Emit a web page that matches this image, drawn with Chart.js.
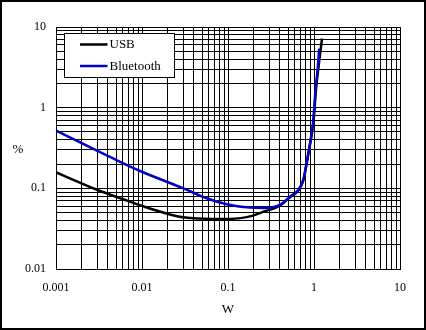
<!DOCTYPE html>
<html>
<head>
<meta charset="utf-8">
<title>USB / Bluetooth</title>
<script src="https://cdn.jsdelivr.net/npm/chart.js@4.5.0/dist/chart.umd.min.js"></script>
<style>
  html, body { margin: 0; padding: 0; background: #fff; }
  canvas { display: block; }
</style>
</head>
<body>
<canvas id="lossChart" width="426" height="330"></canvas>
<script>
// axis decades and their printed labels
const xTicks = [0.001, 0.01, 0.1, 1, 10]
const xTickLabels = ['0.001', '0.01', '0.1', '1', '10']
const yTicks = [0.01, 0.1, 1, 10]
const yTickLabels = ['0.01', '0.1', '1', '10']

// USB curve (W, %)
const usbW   = [0.001, 0.0029, 0.006, 0.0111, 0.0248, 0.03, 0.067, 0.105, 0.195, 0.255, 0.403, 0.526, 0.656, 0.751, 0.807, 0.859, 0.945, 0.99, 1.06, 1.12, 1.24]
const usbPct = [0.158, 0.0975, 0.0733, 0.0583, 0.0455, 0.0438, 0.0418, 0.0418, 0.0459, 0.051, 0.0615, 0.0775, 0.094, 0.125, 0.183, 0.268, 0.48, 0.70, 1.8, 3.0, 7.2]

// Bluetooth curve (W, %)
const btW   = [0.001, 0.005, 0.0095, 0.0302, 0.0565, 0.0966, 0.18, 0.255, 0.403, 0.526, 0.656, 0.751, 0.807, 0.859, 0.94, 0.98, 1.05, 1.10, 1.15]
const btPct = [0.519, 0.225, 0.164, 0.100, 0.0753, 0.0635, 0.0577, 0.057, 0.0622, 0.0789, 0.0955, 0.127, 0.186, 0.272, 0.482, 0.70, 1.82, 2.9, 5.4]

const toPoints = (xs, ys) => xs.map((x, i) => ({ x: x, y: ys[i] }))

// every 1..9 step inside each decade, used for the full log grid
function logGrid(decades) {
  const out = []
  decades.forEach((d, i) => {
    if (i === decades.length - 1) { out.push(d); return }
    for (let m = 1; m < 10; m++) out.push(+(d * m).toPrecision(3))
  })
  return out
}

function labelFor(decades, labels) {
  return (val) => {
    const i = decades.findIndex(t => Math.abs(Math.log10(t) - Math.log10(val)) < 1e-6)
    return i >= 0 ? labels[i] : ''
  }
}

const serif = '"Liberation Serif", "Times New Roman", serif'
Chart.defaults.font.family = serif
Chart.defaults.font.size = 12
Chart.defaults.color = '#000'

// legend box, axis names and outer frame
const decor = {
  id: 'decor',
  afterDraw(chart) {
    const ctx = chart.ctx
    const a = chart.chartArea
    ctx.save()

    const bx = a.left + 8.5, by = a.top + 6.5, bw = 110, bh = 44
    ctx.fillStyle = '#fff'
    ctx.fillRect(bx, by, bw, bh)
    ctx.strokeStyle = '#000'
    ctx.lineWidth = 1
    ctx.strokeRect(bx, by, bw, bh)

    ctx.font = '13px ' + serif
    ctx.textBaseline = 'middle'
    ctx.textAlign = 'left'
    const rows = [chart.data.datasets[0], chart.data.datasets[1]]
    rows.forEach((ds, i) => {
      const ly = by + 11 + i * 21.5
      ctx.strokeStyle = ds.borderColor
      ctx.lineWidth = 2.5
      ctx.beginPath()
      ctx.moveTo(bx + 15.5, ly)
      ctx.lineTo(bx + 43, ly)
      ctx.stroke()
      ctx.fillStyle = '#000'
      ctx.fillText(ds.label, bx + 45, ly + 0.5)
    })

    ctx.font = '13px ' + serif
    ctx.textAlign = 'center'
    ctx.fillText('%', 18, (a.top + a.bottom) / 2 + 2)
    ctx.fillText('W', (a.left + a.right) / 2, 310)

    ctx.strokeStyle = '#000'
    ctx.lineWidth = 2
    ctx.strokeRect(1, 1, chart.width - 2, chart.height - 2)
    ctx.restore()
  }
}

new Chart(document.getElementById('lossChart'), {
  type: 'line',
  data: {
    datasets: [{
      label: 'USB',
      data: toPoints(usbW, usbPct),
      borderColor: '#000000',
      borderWidth: 2.5,
      pointRadius: 0,
      cubicInterpolationMode: 'monotone',
      order: 1
    }, {
      label: 'Bluetooth',
      data: toPoints(btW, btPct),
      borderColor: '#0000C8',
      borderWidth: 2.5,
      pointRadius: 0,
      cubicInterpolationMode: 'monotone',
      order: 0
    }]
  },
  options: {
    responsive: false,
    animation: false,
    layout: { padding: { top: 27, right: 26, left: 0, bottom: 0 } },
    plugins: { legend: { display: false }, tooltip: { enabled: false } },
    scales: {
      x: {
        type: 'logarithmic',
        min: 0.001,
        max: 10,
        afterBuildTicks: s => { s.ticks = logGrid(xTicks).map(v => ({ value: v })) },
        afterFit: s => { s.height = 61 },
        grid: { color: '#000', lineWidth: 1, drawTicks: false },
        border: { color: '#000', width: 1 },
        ticks: { callback: labelFor(xTicks, xTickLabels), autoSkip: false, maxRotation: 0, padding: 12 }
      },
      y: {
        type: 'logarithmic',
        min: 0.01,
        max: 10,
        afterBuildTicks: s => { s.ticks = logGrid(yTicks).map(v => ({ value: v })) },
        afterFit: s => { s.width = 56 },
        grid: { color: '#000', lineWidth: 1, drawTicks: false },
        border: { color: '#000', width: 1 },
        ticks: { callback: labelFor(yTicks, yTickLabels), autoSkip: false, padding: 10 }
      }
    }
  },
  plugins: [decor]
})
</script>
</body>
</html>
